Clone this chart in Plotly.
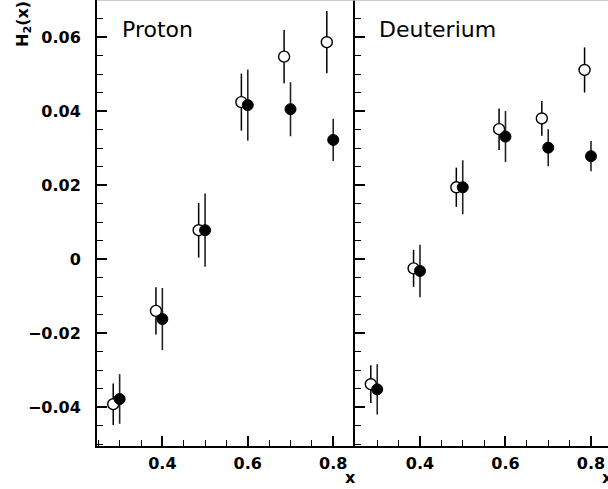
import plotly.graph_objects as go

# ---- data ----
x_open = [0.285, 0.385, 0.485, 0.585, 0.685, 0.785]
x_full = [0.3, 0.4, 0.5, 0.6, 0.7, 0.8]

p_open_y = [-0.0392, -0.0140, 0.0078, 0.0424, 0.0547, 0.0586]
p_open_e = [0.0056, 0.0064, 0.0074, 0.0077, 0.0072, 0.0084]
p_full_y = [-0.0378, -0.0162, 0.0078, 0.0416, 0.0405, 0.0322]
p_full_e = [0.0067, 0.0084, 0.0099, 0.0096, 0.0073, 0.0057]

d_open_y = [-0.0338, -0.0025, 0.0194, 0.0351, 0.0380, 0.0511]
d_open_e = [0.0051, 0.0050, 0.0053, 0.0056, 0.0047, 0.0061]
d_full_y = [-0.0352, -0.0032, 0.0194, 0.0331, 0.0301, 0.0278]
d_full_e = [0.0068, 0.0071, 0.0073, 0.0069, 0.0050, 0.0041]

panel_titles = ["Proton", "Deuterium"]
y_ticks = [-0.04, -0.02, 0, 0.02, 0.04, 0.06]
y_tick_text = ["\u22120.04", "\u22120.02", "0", "0.02", "0.04", "0.06"]
x_ticks = [0.4, 0.6, 0.8]
x_tick_text = ["0.4", "0.6", "0.8"]

# ---- layout geometry (pixels) ----
W, H = 608, 489
ML, MB, MT, MR = 97, 43, 0, 0
PW = W - ML - MR
PH = H - MT - MB
split = 258 / PW

def px_x(px):
    return (px - ML) / PW

def px_y(py):
    return (H - MB - py) / PH

fig = go.Figure()

def add_panel(xo, yo, eo, xf, yf, ef, xa, ya):
    fig.add_trace(go.Scatter(
        x=xo, y=yo, mode="markers", xaxis=xa, yaxis=ya, showlegend=False,
        marker=dict(symbol="circle", size=11, color="white",
                    line=dict(color="black", width=1.4)),
        error_y=dict(type="data", array=eo, visible=True, color="black",
                     thickness=1.5, width=0)))
    fig.add_trace(go.Scatter(
        x=xf, y=yf, mode="markers", xaxis=xa, yaxis=ya, showlegend=False,
        marker=dict(symbol="circle", size=11, color="black",
                    line=dict(color="black", width=1)),
        error_y=dict(type="data", array=ef, visible=True, color="#222222",
                     thickness=1.6, width=0)))

add_panel(x_open, p_open_y, p_open_e, x_full, p_full_y, p_full_e, "x", "y")
add_panel(x_open, d_open_y, d_open_e, x_full, d_full_y, d_full_e, "x2", "y2")

tickfont = dict(family="DejaVu Sans", size=16, color="black", weight="bold")

xcommon = dict(
    tickvals=x_ticks, ticktext=x_tick_text, ticks="inside", ticklen=10,
    tickwidth=1.5, tickcolor="black", showline=True, linecolor="black",
    linewidth=2, showgrid=False, zeroline=False, tickfont=tickfont,
    ticklabelstandoff=2,
    minor=dict(dtick=0.05, tick0=0.25, ticks="inside", ticklen=6,
               tickwidth=1.2, tickcolor="black", showgrid=False),
    fixedrange=True,
)
ycommon = dict(
    range=[-0.0505, 0.0700], tickvals=y_ticks, ticks="inside", ticklen=10,
    tickwidth=1.5, tickcolor="black", showline=True, linecolor="black",
    linewidth=2, showgrid=False, zeroline=False, tickfont=tickfont,
    minor=dict(dtick=0.005, tick0=0, ticks="inside", ticklen=6,
               tickwidth=1.2, tickcolor="black", showgrid=False),
    fixedrange=True,
)

fig.update_layout(
    width=W, height=H,
    margin=dict(l=ML, r=MR, t=MT, b=MB, pad=0),
    paper_bgcolor="white", plot_bgcolor="white",
    xaxis=dict(domain=[0, split], range=[0.247, 0.851], anchor="y", **xcommon),
    yaxis=dict(domain=[0, 1], anchor="x", ticktext=y_tick_text,
               ticklabelstandoff=11, **ycommon),
    xaxis2=dict(domain=[split, 1], range=[0.248, 0.248 + (W - 355) / 427.5],
                anchor="y2", **xcommon),
    yaxis2=dict(domain=[0, 1], anchor="x2", showticklabels=False, **ycommon),
    shapes=[dict(type="line", xref="paper", yref="paper", x0=0, x1=1.05,
                 y0=1, y1=1, line=dict(color="#bbbbbb", width=1.5))],
)

ann_font = dict(family="DejaVu Sans", size=22, color="black")
lab_font = dict(family="DejaVu Sans", size=16, color="black", weight="bold")
annotations = [
    dict(text=panel_titles[0], x=px_x(120), y=px_y(30), xref="paper", yref="paper",
         xanchor="left", yanchor="middle", showarrow=False, font=ann_font),
    dict(text=panel_titles[1], x=px_x(377), y=px_y(30), xref="paper", yref="paper",
         xanchor="left", yanchor="middle", showarrow=False, font=ann_font),
    dict(text="x", x=px_x(350), y=px_y(477), xref="paper", yref="paper",
         xanchor="center", yanchor="middle", showarrow=False, font=lab_font),
    dict(text="x", x=px_x(607), y=px_y(477), xref="paper", yref="paper",
         xanchor="center", yanchor="middle", showarrow=False, font=lab_font),
    dict(text="H<sub>2</sub>(x)", x=px_x(23), y=px_y(24), xref="paper", yref="paper",
         xanchor="center", yanchor="middle", textangle=-90, showarrow=False,
         font=lab_font),
]
fig.update_layout(annotations=annotations)

fig.write_html("out.html", config={"displayModeBar": False},
               post_script="document.body.style.margin='0';"
                           "document.body.style.overflow='hidden';")
